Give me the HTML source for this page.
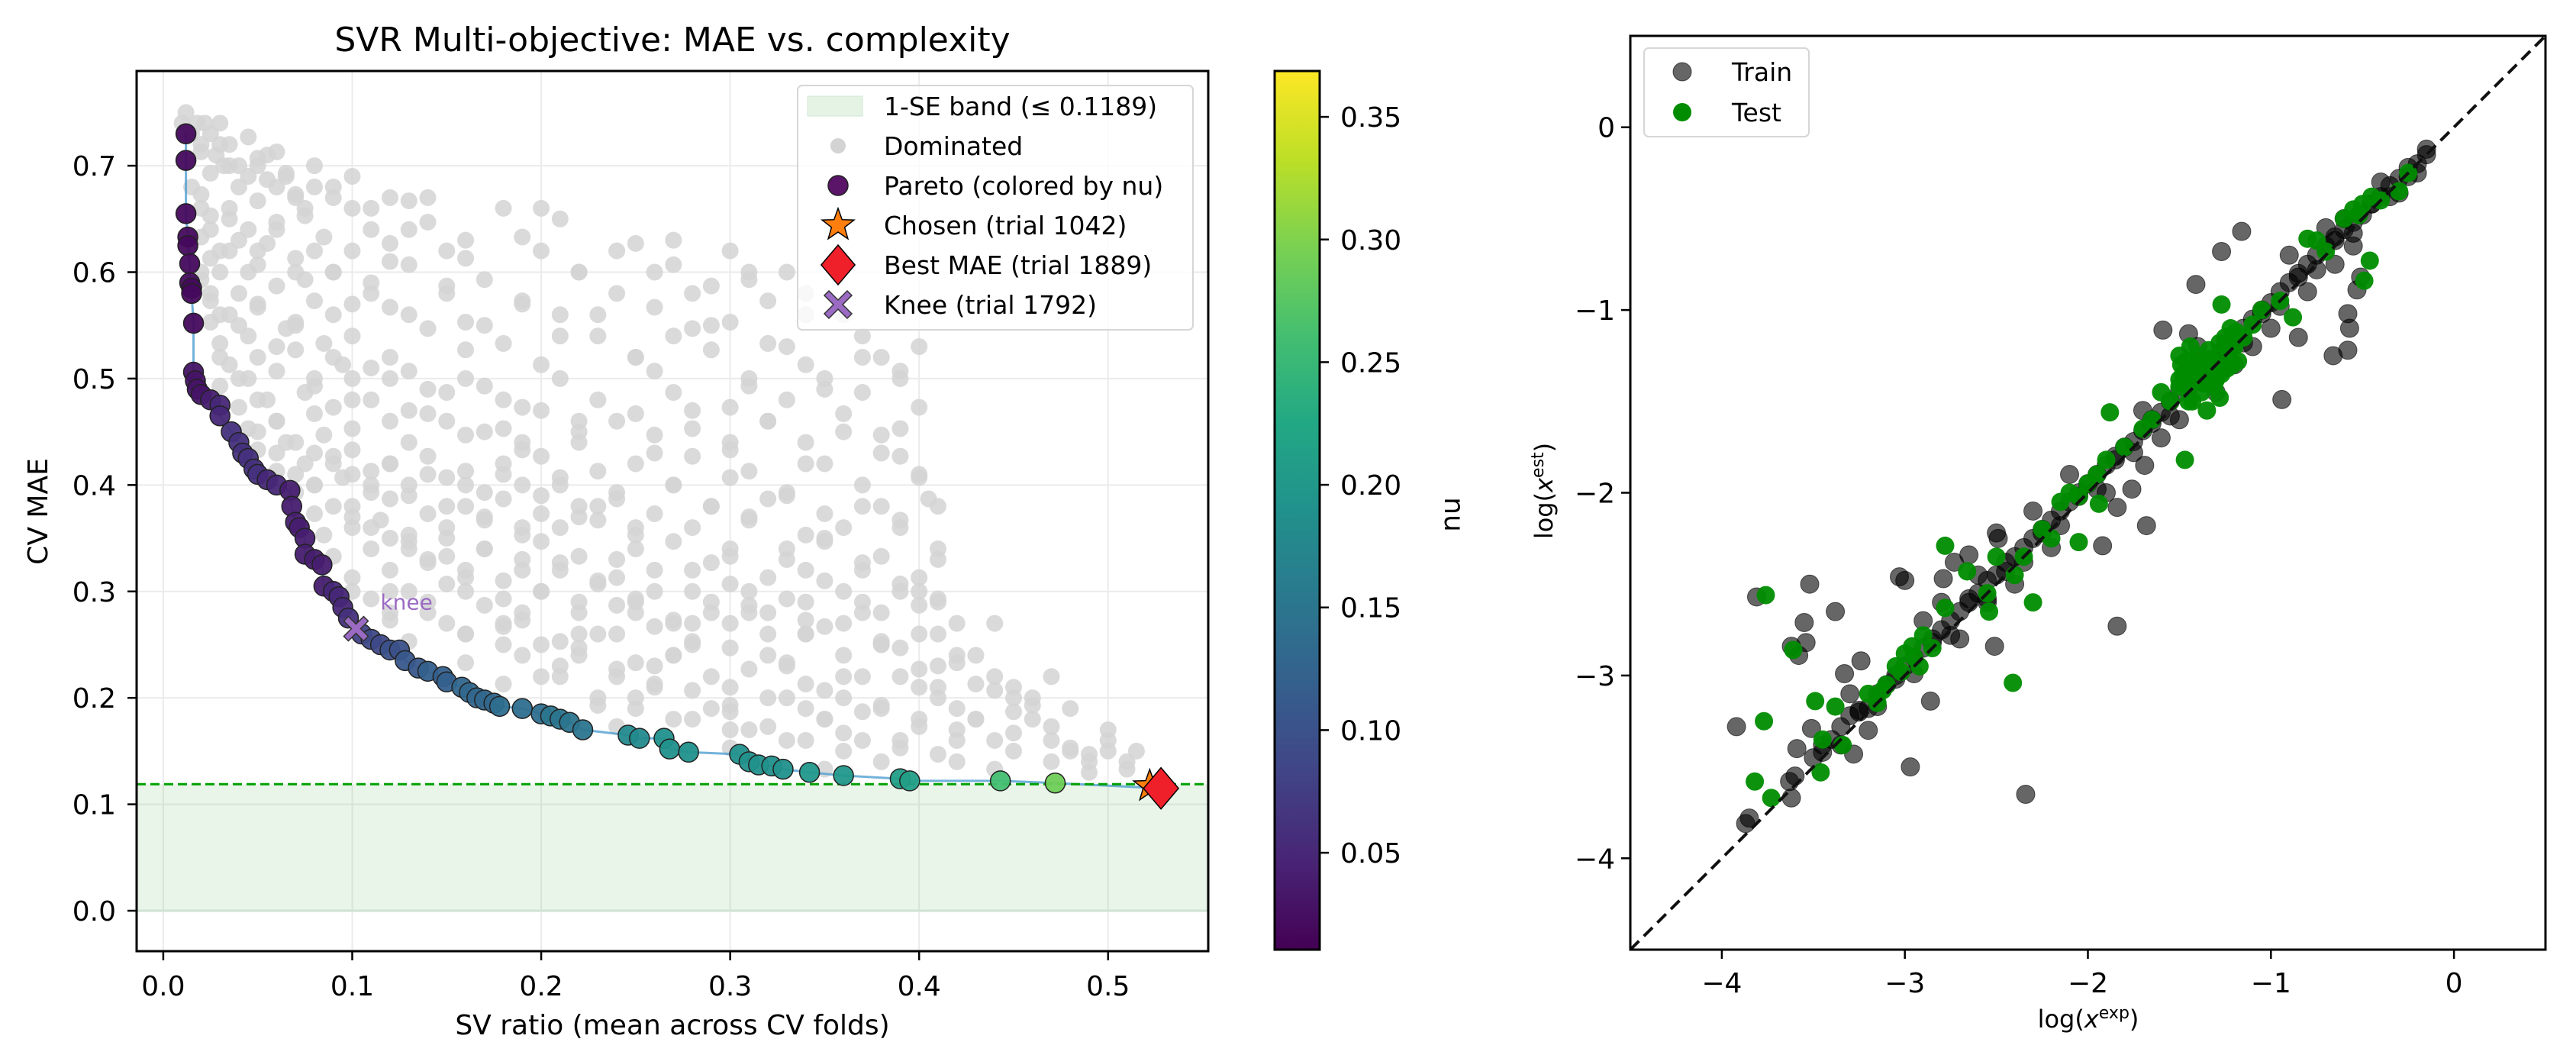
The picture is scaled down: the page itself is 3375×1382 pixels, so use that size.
<!DOCTYPE html>
<html><head><meta charset="utf-8">
<style>
html,body{margin:0;padding:0;background:#fff;}
svg{display:block;font-family:"DejaVu Sans","Liberation Sans",sans-serif;}
</style></head>
<body>
<svg id="fig" width="3375" height="1382" viewBox="0 0 3375 1382" xmlns="http://www.w3.org/2000/svg">
<defs>
<linearGradient id="vir" x1="0" y1="1" x2="0" y2="0">
<stop offset="0" stop-color="#440154"/><stop offset="0.1" stop-color="#482475"/><stop offset="0.2" stop-color="#414487"/><stop offset="0.3" stop-color="#355f8d"/><stop offset="0.4" stop-color="#2a788e"/><stop offset="0.5" stop-color="#21918c"/><stop offset="0.6" stop-color="#22a884"/><stop offset="0.7" stop-color="#44bf70"/><stop offset="0.8" stop-color="#7ad151"/><stop offset="0.9" stop-color="#bddf26"/><stop offset="1" stop-color="#fde725"/>
</linearGradient>
<clipPath id="clipL"><rect x="179" y="93" width="1404" height="1153"/></clipPath>
<clipPath id="clipR"><rect x="2136" y="47" width="1199" height="1197"/></clipPath>
</defs>
<g id="left"></g>
<g id="cbar"></g>
<g id="right"></g>
</svg>
<script>
// ---------- Left chart data ----------
const xTicksL = [0.0, 0.1, 0.2, 0.3, 0.4, 0.5];
const yTicksL = [0.0, 0.1, 0.2, 0.3, 0.4, 0.5, 0.6, 0.7];
const seThreshold = 0.1189;
const domX = [0.01,0.012,0.015,0.018,0.02,0.022,0.025,0.028,0.03,0.032,0.035,0.04,0.045,0.05,0.055,0.06,0.065,0.07,0.075,0.08,0.09,0.1,0.11,0.12,0.13,0.14,0.15,0.16,0.18,0.2,0.21,0.22,0.24,0.26,0.27,0.28,0.3,0.31,0.33,0.34,0.36,
0.015,0.02,0.025,0.03,0.035,0.04,0.045,0.05,0.06,0.07,0.08,0.09,0.1,0.11,0.12,0.13,0.15,0.17,0.19,0.21,0.23,0.25,0.27,0.29,0.31,0.33,0.35,0.37,0.39,0.4,
0.02,0.025,0.03,0.04,0.05,0.06,0.07,0.08,0.09,0.1,0.11,0.12,0.13,0.14,0.15,0.16,0.17,0.18,0.19,0.2,0.22,0.24,0.26,0.28,0.3,0.32,0.34,0.36,0.38,0.4,0.41,
0.03,0.04,0.05,0.06,0.07,0.08,0.09,0.1,0.11,0.12,0.13,0.14,0.15,0.16,0.17,0.18,0.19,0.2,0.21,0.22,0.23,0.25,0.27,0.29,0.31,0.33,0.35,0.37,0.39,0.41,
0.05,0.06,0.07,0.08,0.09,0.1,0.11,0.12,0.13,0.14,0.15,0.16,0.17,0.18,0.19,0.2,0.21,0.22,0.23,0.24,0.25,0.26,0.27,0.28,0.29,0.3,0.31,0.32,0.33,0.34,0.35,0.36,0.37,0.38,0.39,0.4,0.41,0.42,
0.08,0.1,0.12,0.14,0.16,0.18,0.2,0.22,0.24,0.26,0.28,0.3,0.32,0.34,0.36,0.38,0.4,0.42,0.12,0.15,0.18,0.21,0.24,0.27,0.3,0.33,0.36,0.39,0.42,0.44,
0.2,0.23,0.26,0.29,0.32,0.35,0.38,0.41,0.43,0.45,0.25,0.28,0.31,0.34,0.37,0.4,0.42,0.44,0.46,0.48,0.3,0.33,0.36,0.39,0.42,0.45,0.47,0.49,0.5,0.51,
0.38,0.41,0.43,0.45,0.47,0.48,0.5,0.515,0.4,0.44,0.46,0.49,0.16,0.19,0.22,0.25,0.28,0.31,0.34,0.37];
const domY = [0.74,0.75,0.73,0.74,0.72,0.74,0.73,0.71,0.74,0.7,0.72,0.7,0.69,0.7,0.71,0.68,0.69,0.67,0.66,0.68,0.67,0.69,0.66,0.67,0.64,0.67,0.62,0.63,0.66,0.66,0.65,0.6,0.62,0.6,0.63,0.58,0.62,0.6,0.6,0.58,0.56,
0.68,0.66,0.64,0.62,0.65,0.63,0.6,0.62,0.64,0.6,0.62,0.6,0.57,0.59,0.61,0.56,0.58,0.55,0.57,0.54,0.56,0.52,0.54,0.55,0.5,0.53,0.49,0.52,0.5,0.53,
0.6,0.58,0.56,0.55,0.57,0.53,0.55,0.5,0.52,0.48,0.51,0.5,0.47,0.49,0.46,0.5,0.45,0.48,0.44,0.47,0.45,0.46,0.43,0.47,0.44,0.46,0.42,0.45,0.43,0.41,0.38,
0.52,0.5,0.48,0.46,0.44,0.43,0.42,0.41,0.4,0.42,0.39,0.41,0.38,0.4,0.37,0.41,0.36,0.39,0.4,0.37,0.38,0.36,0.4,0.38,0.37,0.39,0.35,0.38,0.36,0.33,
0.45,0.43,0.41,0.4,0.38,0.37,0.36,0.35,0.34,0.33,0.35,0.32,0.34,0.31,0.33,0.3,0.32,0.29,0.31,0.33,0.28,0.3,0.27,0.32,0.29,0.34,0.3,0.28,0.33,0.29,0.31,0.27,0.32,0.28,0.3,0.26,0.29,0.27,
0.33,0.3,0.28,0.29,0.26,0.27,0.25,0.24,0.26,0.23,0.25,0.27,0.24,0.26,0.22,0.25,0.21,0.24,0.3,0.27,0.25,0.23,0.22,0.24,0.21,0.23,0.2,0.22,0.19,0.22,
0.22,0.2,0.21,0.19,0.2,0.18,0.19,0.21,0.18,0.2,0.19,0.18,0.17,0.19,0.16,0.18,0.17,0.16,0.18,0.15,0.17,0.16,0.15,0.16,0.14,0.15,0.16,0.14,0.15,0.14,
0.25,0.23,0.24,0.21,0.22,0.19,0.17,0.15,0.3,0.27,0.2,0.13,0.3,0.28,0.26,0.29,0.27,0.28,0.26,0.29];
// additional dominated trials, grouped by approximate MAE level
const domRowY = [0.72,0.70,0.68,0.66,0.64,0.62,0.60,0.58,0.56,0.54,0.52,0.50,0.48,0.46,0.44,0.42,0.40,0.38,0.36,0.34,0.32,0.30,0.28,0.26,0.24,0.22,0.20,0.18,0.16,0.14];
const domRowX = [
[0.02,0.03,0.045,0.06],
[0.025,0.035,0.05,0.065,0.08],
[0.02,0.04,0.055,0.07,0.09],
[0.025,0.035,0.05,0.075,0.1,0.13],
[0.02,0.045,0.06,0.085,0.11,0.14,0.19],
[0.025,0.035,0.055,0.07,0.1,0.12,0.16,0.2,0.25],
[0.02,0.03,0.05,0.075,0.09,0.13,0.17,0.22,0.27,0.31],
[0.025,0.04,0.06,0.08,0.11,0.15,0.19,0.24,0.29,0.32],
[0.025,0.035,0.05,0.07,0.09,0.12,0.16,0.21,0.26,0.3,0.34],
[0.03,0.045,0.065,0.085,0.1,0.14,0.18,0.23,0.28,0.32,0.37],
[0.035,0.05,0.07,0.095,0.12,0.16,0.2,0.25,0.29,0.34,0.38],
[0.03,0.045,0.06,0.08,0.1,0.13,0.17,0.21,0.26,0.31,0.35,0.39],
[0.04,0.055,0.075,0.09,0.11,0.15,0.19,0.23,0.27,0.3,0.33,0.37,0.4],
[0.045,0.06,0.08,0.1,0.12,0.14,0.18,0.22,0.25,0.28,0.32,0.36,0.39],
[0.05,0.065,0.085,0.1,0.13,0.16,0.19,0.22,0.26,0.3,0.34,0.38],
[0.06,0.075,0.09,0.11,0.12,0.14,0.16,0.18,0.2,0.23,0.25,0.28,0.31,0.35,0.39],
[0.07,0.08,0.095,0.11,0.13,0.15,0.17,0.19,0.21,0.24,0.27,0.3,0.33,0.37,0.4],
[0.08,0.1,0.12,0.14,0.16,0.18,0.2,0.22,0.24,0.26,0.29,0.32,0.35,0.38,0.405],
[0.085,0.1,0.115,0.13,0.15,0.17,0.19,0.21,0.23,0.25,0.28,0.31,0.34,0.36,0.39],
[0.09,0.11,0.13,0.15,0.17,0.2,0.22,0.25,0.27,0.3,0.33,0.35,0.38,0.41],
[0.1,0.12,0.14,0.16,0.19,0.21,0.24,0.26,0.29,0.32,0.34,0.37,0.4],
[0.11,0.13,0.15,0.18,0.2,0.23,0.25,0.28,0.3,0.33,0.36,0.39,0.41],
[0.12,0.14,0.17,0.19,0.22,0.24,0.27,0.29,0.31,0.34,0.37,0.4],
[0.13,0.16,0.18,0.21,0.23,0.26,0.28,0.32,0.35,0.38,0.41],
[0.16,0.19,0.22,0.25,0.27,0.3,0.33,0.36,0.39,0.42],
[0.18,0.21,0.24,0.26,0.29,0.31,0.34,0.37,0.4,0.43],
[0.23,0.25,0.28,0.3,0.33,0.35,0.38,0.41,0.44,0.46],
[0.24,0.27,0.3,0.32,0.35,0.37,0.4,0.43,0.45,0.47],
[0.3,0.34,0.36,0.39,0.42,0.45,0.48,0.5],
[0.35,0.38,0.41,0.44,0.47,0.49,0.51]];
const parX = [0.012,0.012,0.012,0.013,0.013,0.014,0.014,0.015,0.015,0.016,0.016,0.017,0.018,0.02,0.025,0.03,0.03,0.036,0.04,0.042,0.045,0.048,0.05,0.055,0.06,0.067,0.068,0.07,0.072,0.075,0.075,0.08,0.084,0.085,0.09,0.093,0.095,0.098,0.105,0.11,0.115,0.12,0.125,0.128,0.135,0.14,0.148,0.15,0.158,0.162,0.166,0.17,0.175,0.178,0.19,0.2,0.205,0.21,0.215,0.222,0.246,0.252,0.265,0.268,0.278,0.305,0.31,0.315,0.322,0.328,0.342,0.36,0.39,0.395,0.443,0.472];
const parY = [0.73,0.705,0.655,0.633,0.625,0.608,0.59,0.585,0.58,0.552,0.506,0.498,0.49,0.485,0.48,0.475,0.465,0.45,0.44,0.43,0.425,0.415,0.41,0.405,0.4,0.395,0.38,0.365,0.36,0.35,0.335,0.33,0.325,0.305,0.3,0.295,0.285,0.275,0.26,0.255,0.25,0.245,0.245,0.235,0.228,0.225,0.22,0.215,0.21,0.205,0.2,0.198,0.195,0.192,0.19,0.185,0.183,0.18,0.177,0.17,0.165,0.162,0.162,0.152,0.149,0.147,0.14,0.137,0.136,0.133,0.13,0.127,0.124,0.122,0.122,0.12];
const parNu = [0.02,0.02,0.02,0.02,0.02,0.02,0.02,0.02,0.02,0.02,0.03,0.03,0.03,0.03,0.04,0.05,0.05,0.06,0.06,0.06,0.06,0.06,0.06,0.05,0.05,0.04,0.04,0.04,0.04,0.04,0.04,0.04,0.04,0.04,0.05,0.05,0.05,0.06,0.08,0.09,0.09,0.1,0.1,0.11,0.11,0.12,0.12,0.12,0.13,0.13,0.13,0.13,0.13,0.14,0.14,0.14,0.15,0.15,0.15,0.15,0.18,0.18,0.19,0.19,0.19,0.19,0.19,0.19,0.19,0.19,0.2,0.2,0.21,0.21,0.26,0.29];
const chosen = [0.522, 0.117];
const bestMae = [0.528, 0.115];
const knee = [0.102, 0.265];
const legendLabels = ["1-SE band (≤ 0.1189)","Dominated","Pareto (colored by nu)","Chosen (trial 1042)","Best MAE (trial 1889)","Knee (trial 1792)"];
const cbTicks = [0.05,0.10,0.15,0.20,0.25,0.30,0.35];
// ---------- Right chart data ----------
const ticksR = [-4,-3,-2,-1,0];
const trainX = [-3.81,-3.52,-3.55,-3.62,-3.54,-3.58,-3.38,-3.33,-3.24,-3.92,-3.51,-3.59,-3.63,-3.62,-3.87,-3.28,-2.97,-3.03,-3.0,-2.86,-2.79,-2.73,-2.65,-2.51,-2.34,-1.84,-1.92,-1.68,-1.76,-1.84,-1.69,-0.94,-0.85,-0.66,-0.58,-0.57,-0.58,-0.53,-0.51,-1.41,-1.27,-1.16,-1.59,-1.45,-2.5,-2.49,
-3.85,-3.6,-3.5,-3.45,-3.4,-3.35,-3.3,-3.25,-3.2,-3.15,-3.1,-3.05,-3.0,-2.95,-2.9,-2.85,-2.8,-2.75,-2.7,-2.65,-2.6,-2.55,-2.5,-2.45,-2.4,-2.35,-2.3,-2.25,-2.2,-2.15,-2.1,-2.05,-2.0,-1.95,-1.9,-1.85,-1.8,-1.75,-1.7,-1.65,-1.6,-1.55,-1.5,-1.45,-1.4,-1.35,-1.3,-1.25,-1.2,-1.15,-1.1,-1.05,-1.0,-0.95,-0.9,-0.85,-0.8,-0.75,-0.7,-0.65,-0.6,-0.55,-0.5,-0.45,-0.4,-0.35,-0.3,-0.25,-0.2,-0.15,
-3.3,-3.2,-2.9,-2.7,-2.4,-2.3,-2.2,-2.1,-1.9,-1.7,-1.6,-1.5,-1.4,-1.3,-1.2,-1.1,-1.0,-0.9,-0.8,-0.7,-0.65,-0.6,-0.55,-0.4,-0.3,-0.2,-0.15,-2.6,-2.55,-2.8,
-3.45,-3.35,-3.25,-3.15,-3.05,-2.95,-2.85,-2.75,-2.65,-2.55,-2.45,-2.35,-2.25,-2.15,-2.05,-1.95,-1.85,-1.75,-1.65,-1.55,-1.45,-1.35,-1.25,-1.15,-1.05,-0.95,-0.85,-0.75,-0.65,-0.55,-0.45,-0.35,-0.25];
const trainY = [-2.57,-2.5,-2.71,-2.84,-2.82,-2.89,-2.65,-2.99,-2.92,-3.28,-3.29,-3.4,-3.58,-3.67,-3.81,-3.43,-3.5,-2.46,-2.48,-3.14,-2.47,-2.38,-2.34,-2.84,-3.65,-2.73,-2.29,-2.18,-1.98,-2.08,-1.85,-1.49,-1.15,-1.25,-1.22,-1.1,-1.02,-0.89,-0.82,-0.86,-0.68,-0.57,-1.11,-1.13,-2.22,-2.25,
-3.78,-3.55,-3.45,-3.38,-3.35,-3.28,-3.22,-3.2,-3.18,-3.1,-3.05,-3.0,-2.95,-2.9,-2.85,-2.8,-2.75,-2.7,-2.65,-2.58,-2.55,-2.48,-2.45,-2.38,-2.35,-2.3,-2.25,-2.2,-2.15,-2.1,-2.05,-2.0,-1.95,-1.9,-1.85,-1.8,-1.75,-1.72,-1.66,-1.6,-1.56,-1.5,-1.45,-1.4,-1.37,-1.3,-1.26,-1.2,-1.15,-1.1,-1.05,-1.0,-0.96,-0.9,-0.85,-0.8,-0.75,-0.7,-0.65,-0.6,-0.56,-0.52,-0.48,-0.42,-0.38,-0.32,-0.28,-0.22,-0.2,-0.15,
-3.1,-3.3,-2.7,-2.8,-2.5,-2.1,-2.3,-1.9,-2.0,-1.55,-1.7,-1.6,-1.2,-1.45,-1.3,-1.2,-1.1,-0.7,-0.9,-0.55,-0.75,-0.5,-0.65,-0.3,-0.36,-0.25,-0.12,-2.45,-2.6,-2.6,
-3.42,-3.38,-3.19,-3.17,-3.02,-2.99,-2.82,-2.78,-2.6,-2.58,-2.43,-2.38,-2.22,-2.18,-2.02,-1.98,-1.82,-1.78,-1.62,-1.58,-1.42,-1.38,-1.22,-1.18,-1.02,-0.98,-0.82,-0.78,-0.62,-0.58,-0.42,-0.38,-0.27];
const testX = [-3.76,-3.61,-3.77,-3.82,-3.73,-3.49,-3.38,-3.46,-3.34,-2.78,-2.78,-2.66,-2.54,-2.41,-2.3,-1.88,-1.47,-1.27,-0.8,-0.46,-0.49,-0.88,-1.94,-2.05,
-3.2,-3.15,-3.1,-3.05,-3.0,-2.95,-2.9,-2.92,-2.85,-2.25,-2.2,-2.15,-2.1,-2.05,-2.0,-1.95,-1.9,-1.8,-1.7,-1.65,-1.6,-1.55,-1.5,-1.48,-1.46,-1.44,-1.42,-1.4,-1.38,-1.36,-1.34,-1.32,-1.3,-1.28,-1.26,-1.24,-1.22,-1.2,-1.18,-1.15,-1.1,-1.05,-0.95,-0.75,-0.7,-0.6,-0.55,-0.5,-0.4,-0.3,-0.25,-1.45,-1.35,-1.5,-1.28,-2.35,-2.4,-2.5,-3.45,-2.55,
-1.47,-1.43,-1.41,-1.39,-1.37,-1.33,-1.31,-1.27,-1.25,-1.23,-1.21,-1.19,-1.49,-1.5,-1.44,-3.12,-3.02,-2.96,-0.52,-0.45];
const testY = [-2.56,-2.86,-3.25,-3.58,-3.67,-3.14,-3.17,-3.53,-3.38,-2.29,-2.63,-2.43,-2.65,-3.04,-2.6,-1.56,-1.82,-0.97,-0.61,-0.73,-0.84,-1.04,-2.06,-2.27,
-3.1,-3.15,-3.05,-2.95,-2.88,-2.9,-2.78,-2.95,-2.85,-2.2,-2.25,-2.05,-2.0,-2.02,-1.95,-1.9,-1.82,-1.75,-1.65,-1.6,-1.45,-1.5,-1.42,-1.35,-1.28,-1.4,-1.32,-1.25,-1.45,-1.35,-1.22,-1.3,-1.38,-1.18,-1.25,-1.32,-1.1,-1.2,-1.28,-1.15,-1.08,-1.0,-0.95,-0.62,-0.68,-0.5,-0.45,-0.42,-0.4,-0.35,-0.25,-1.5,-1.55,-1.25,-1.48,-2.35,-2.45,-2.35,-3.35,-2.55,
-1.42,-1.5,-1.36,-1.3,-1.4,-1.27,-1.42,-1.35,-1.15,-1.22,-1.3,-1.12,-1.3,-1.38,-1.2,-3.08,-2.98,-2.84,-0.48,-0.38];

const NS="http://www.w3.org/2000/svg";
function mk(tag, attrs, parent, text){const e=document.createElementNS(NS,tag);for(const k in attrs)e.setAttribute(k,attrs[k]);if(text!==undefined)e.textContent=text;parent.appendChild(e);return e;}
const L={x0:179,x1:1583,y0:93,y1:1246,xmin:-0.0141,xmax:0.553,ymin:-0.038,ymax:0.789};
const xL=v=>L.x0+(v-L.xmin)/(L.xmax-L.xmin)*(L.x1-L.x0);
const yL=v=>L.y1-(v-L.ymin)/(L.ymax-L.ymin)*(L.y1-L.y0);
const vstops=[[0,[68,1,84]],[0.1,[72,36,117]],[0.2,[65,68,135]],[0.3,[53,95,141]],[0.4,[42,120,142]],[0.5,[33,145,140]],[0.6,[34,168,132]],[0.7,[68,191,112]],[0.8,[122,209,81]],[0.9,[189,223,38]],[1,[253,231,37]]];
function viridis(t){t=Math.max(0,Math.min(1,t));for(let i=1;i<vstops.length;i++){if(t<=vstops[i][0]){const a=vstops[i-1],b=vstops[i];const f=(t-a[0])/(b[0]-a[0]);const c=a[1].map((v,j)=>Math.round(v+(b[1][j]-v)*f));return `rgb(${c[0]},${c[1]},${c[2]})`;}}return 'rgb(253,231,37)';}
const nuMin=0.0105,nuMax=0.3687;

const gl=document.getElementById('left');
mk('text',{x:881,y:67,'text-anchor':'middle','font-size':44,fill:'#000'},gl,'SVR Multi-objective: MAE vs. complexity');
xTicksL.forEach(t=>{const l=mk('line',{x1:xL(t),x2:xL(t),y1:L.y0,y2:L.y1,stroke:'#ebebeb','stroke-width':2},gl);});
yTicksL.forEach(t=>{const l=mk('line',{x1:L.x0,x2:L.x1,y1:yL(t),y2:yL(t),stroke:'#ebebeb','stroke-width':2},gl);});
const plotL=mk('g',{'clip-path':'url(#clipL)'},gl);


const band=mk('rect',{x:L.x0,y:yL(seThreshold),width:L.x1-L.x0,height:yL(0)-yL(seThreshold),fill:'#2ca02c','fill-opacity':0.1},plotL);


mk('line',{x1:L.x0,x2:L.x1,y1:yL(0),y2:yL(0),stroke:'#cfe3d2','stroke-width':3},plotL);
domX.forEach((x,i)=>{const c=mk('circle',{cx:xL(x),cy:yL(domY[i]),r:11,fill:'#d3d3d3','fill-opacity':0.85},plotL);});
domRowY.forEach((y,r)=>{domRowX[r].forEach((x,j)=>{const c=mk('circle',{cx:xL(x),cy:yL(y+((j%3)-1)*0.007),r:11,fill:'#d3d3d3','fill-opacity':0.85},plotL);});});
let pts=parX.map((x,i)=>xL(x)+','+yL(parY[i])).join(' ')+' '+xL(bestMae[0])+','+yL(bestMae[1]);
const pl=mk('polyline',{points:pts,fill:'none',stroke:'#4f9fd1','stroke-opacity':0.8,'stroke-width':3},plotL);


const th=mk('line',{x1:L.x0,x2:L.x1,y1:yL(seThreshold),y2:yL(seThreshold),stroke:'#00a000','stroke-width':3,'stroke-dasharray':'12,6'},plotL);


parX.forEach((x,i)=>{const c=mk('circle',{cx:xL(x),cy:yL(parY[i]),r:13,fill:viridis((parNu[i]-nuMin)/(nuMax-nuMin)),stroke:'#222','stroke-width':1.5,'fill-opacity':0.95},plotL);});
function star(cx,cy,R,r){let p=[];for(let i=0;i<10;i++){const a=-Math.PI/2+i*Math.PI/5;const rr=i%2?r:R;p.push((cx+rr*Math.cos(a)).toFixed(1)+','+(cy+rr*Math.sin(a)).toFixed(1));}return p.join(' ');}
const cs=mk('polygon',{points:star(xL(chosen[0]),yL(chosen[1]),22,9),fill:'#ff7f0e',stroke:'#000','stroke-width':1.5},plotL);


function diamond(cx,cy,s){return `${cx},${cy-s} ${cx+s*0.85},${cy} ${cx},${cy+s} ${cx-s*0.85},${cy}`;}
const bd=mk('polygon',{points:diamond(xL(bestMae[0]),yL(bestMae[1]),27),fill:'#f0202a',stroke:'#000','stroke-width':1.5},plotL);


function xmark(cx,cy,s,w){const a=w,b=s;return `${cx-b},${cy-b+a} ${cx-b+a},${cy-b} ${cx},${cy-a} ${cx+b-a},${cy-b} ${cx+b},${cy-b+a} ${cx+a},${cy} ${cx+b},${cy+b-a} ${cx+b-a},${cy+b} ${cx},${cy+a} ${cx-b+a},${cy+b} ${cx-b},${cy+b-a} ${cx-a},${cy}`;}
const kx=mk('polygon',{points:xmark(xL(knee[0]),yL(knee[1]),16,6),fill:'#9b6bc4',stroke:'#333','stroke-width':1.5},plotL);


const kt=mk('text',{x:xL(knee[0])+32,y:yL(knee[1])-25,'font-size':28,fill:'#9b6bc4'},gl,'knee');


mk('rect',{x:L.x0,y:L.y0,width:L.x1-L.x0,height:L.y1-L.y0,fill:'none',stroke:'#000','stroke-width':3},gl);
xTicksL.forEach(t=>{mk('line',{x1:xL(t),x2:xL(t),y1:L.y1,y2:L.y1+12,stroke:'#000','stroke-width':2.5},gl);const tx=mk('text',{x:xL(t),y:1304,'text-anchor':'middle','font-size':36},gl,t.toFixed(1));});
yTicksL.forEach(t=>{mk('line',{x1:L.x0-12,x2:L.x0,y1:yL(t),y2:yL(t),stroke:'#000','stroke-width':2.5},gl);const tx=mk('text',{x:152,y:yL(t)+13,'text-anchor':'end','font-size':36},gl,t.toFixed(1));});
const xlab=mk('text',{x:881,y:1355,'text-anchor':'middle','font-size':36},gl,'SV ratio (mean across CV folds)');


const ylab=mk('text',{x:0,y:0,'text-anchor':'middle','font-size':36,transform:'translate(62,670) rotate(-90)'},gl,'CV MAE');


const lg=mk('g',{},gl);


mk('rect',{x:1045,y:112,width:518,height:320,rx:6,fill:'#fff','fill-opacity':0.8,stroke:'#d6d6d6','stroke-width':2},lg);
const rowY=[139,191,243,295,347,399];
const mx=1098;
mk('rect',{x:1058,y:126,width:72,height:26,fill:'#2ca02c','fill-opacity':0.12,stroke:'#cfe9d4'},lg);
mk('circle',{cx:mx,cy:rowY[1],r:10,fill:'#d3d3d3'},lg);
mk('circle',{cx:mx,cy:rowY[2],r:13,fill:'#5a1468',stroke:'#222','stroke-width':1.5},lg);
mk('polygon',{points:star(mx,rowY[3],22,9),fill:'#ff7f0e',stroke:'#000','stroke-width':1.5},lg);
mk('polygon',{points:diamond(mx,rowY[4],26),fill:'#f0202a',stroke:'#000','stroke-width':1.5},lg);
mk('polygon',{points:xmark(mx,rowY[5],18,6),fill:'#9b6bc4',stroke:'#333','stroke-width':1.5},lg);
legendLabels.forEach((s,i)=>{const t=mk('text',{x:1158,y:rowY[i]+12,'font-size':33},lg,s);});

const cb=document.getElementById('cbar');
const C={x0:1670,x1:1729,y0:93,y1:1244};
const yC=v=>C.y1-(v-nuMin)/(nuMax-nuMin)*(C.y1-C.y0);
mk('rect',{x:C.x0,y:C.y0,width:C.x1-C.x0,height:C.y1-C.y0,fill:'url(#vir)',stroke:'#000','stroke-width':3},cb);
cbTicks.forEach(t=>{mk('line',{x1:C.x1,x2:C.x1+12,y1:yC(t),y2:yC(t),stroke:'#000','stroke-width':2.5},cb);const tx=mk('text',{x:1756,y:yC(t)+13,'font-size':36},cb,t.toFixed(2));});
const cbl=mk('text',{x:0,y:0,'text-anchor':'middle','font-size':36,transform:'translate(1893,674) rotate(90)'},cb,'nu');



const gr=document.getElementById('right');
const R={x0:2136,x1:3335,y0:47,y1:1244,min:-4.5,max:0.5};
const xR=v=>R.x0+(v-R.min)/(R.max-R.min)*(R.x1-R.x0);
const yR=v=>R.y1-(v-R.min)/(R.max-R.min)*(R.y1-R.y0);
const plotR=mk('g',{'clip-path':'url(#clipR)'},gr);


trainX.forEach((x,i)=>{const c=mk('circle',{cx:xR(x),cy:yR(trainY[i]),r:12,fill:'#000','fill-opacity':0.6,stroke:'#000','stroke-opacity':0.6,'stroke-width':1},plotR);});
testX.forEach((x,i)=>{const c=mk('circle',{cx:xR(x),cy:yR(testY[i]),r:12,fill:'#008c00','fill-opacity':0.95},plotR);});
const diag=mk('line',{x1:xR(R.min),y1:yR(R.min),x2:xR(R.max),y2:yR(R.max),stroke:'#111','stroke-width':4,'stroke-dasharray':'16,9'},plotR);


mk('rect',{x:R.x0,y:R.y0,width:R.x1-R.x0,height:R.y1-R.y0,fill:'none',stroke:'#000','stroke-width':3},gr);
ticksR.forEach(t=>{
mk('line',{x1:xR(t),x2:xR(t),y1:R.y1,y2:R.y1+12,stroke:'#000','stroke-width':2.5},gr);
const a=mk('text',{x:xR(t),y:1300,'text-anchor':'middle','font-size':36},gr,t<0?'\u2212'+Math.abs(t):'0');


mk('line',{x1:R.x0-12,x2:R.x0,y1:yR(t),y2:yR(t),stroke:'#000','stroke-width':2.5},gr);
const b=mk('text',{x:2116,y:yR(t)+13,'text-anchor':'end','font-size':36},gr,t<0?'\u2212'+Math.abs(t):'0');


});
const rxl=mk('text',{x:2736,y:1346,'text-anchor':'middle','font-size':32},gr);
rxl.innerHTML='log(<tspan font-style="italic">x</tspan><tspan dy="-12" font-size="22">exp</tspan><tspan dy="12">)</tspan>';


const ryl=mk('text',{x:0,y:0,'text-anchor':'middle','font-size':32,transform:'translate(2034,643) rotate(-90)'},gr);
ryl.innerHTML='log(<tspan font-style="italic">x</tspan><tspan dy="-12" font-size="22">est</tspan><tspan dy="12">)</tspan>';


const rlg=mk('g',{},gr);


mk('rect',{x:2154,y:63,width:216,height:116,rx:6,fill:'#fff',stroke:'#d6d6d6','stroke-width':2},rlg);
mk('circle',{cx:2204,cy:94,r:12,fill:'#000','fill-opacity':0.6,stroke:'#000','stroke-opacity':0.6},rlg);
mk('circle',{cx:2204,cy:147,r:12,fill:'#008c00'},rlg);
const t1=mk('text',{x:2269,y:106,'font-size':33},rlg,'Train');


const t2=mk('text',{x:2269,y:159,'font-size':33},rlg,'Test');


</script>
</body></html>
